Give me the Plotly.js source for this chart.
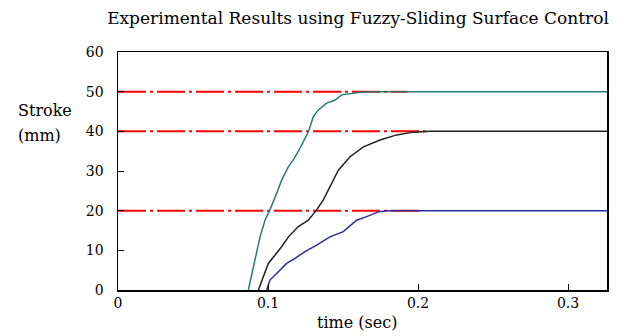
<!DOCTYPE html>
<html>
<head>
<meta charset="utf-8">
<script src="https://cdn.plot.ly/plotly-3.0.1.min.js"></script>
<style>html,body{margin:0;padding:0;background:#fff;}#chart{width:626px;height:336px;}</style>
</head>
<body>
<div id="chart"></div>
<script>
// Reference (set-point) lines
const refLevels = [50, 40, 20];
const refEndTimes = [0.193, 0.207, 0.203];

// Response to 50 mm (teal)
const t50 = [0.0869, 0.0902, 0.0947, 0.098, 0.1013, 0.1058, 0.1091, 0.1136, 0.1169, 0.1213, 0.1269, 0.1302, 0.1336, 0.1391, 0.1447, 0.1491, 0.1602, 0.17, 0.326];
const y50 = [0, 5.9, 13.4, 17.6, 20.2, 24.4, 27.7, 31.1, 32.8, 35.7, 39.9, 43.7, 45.4, 47.1, 47.9, 49.2, 49.8, 50, 50];

// Response to 40 mm (black)
const t40 = [0.0936, 0.098, 0.1002, 0.1047, 0.1091, 0.1136, 0.1202, 0.1269, 0.1324, 0.1369, 0.1402, 0.1469, 0.1547, 0.1636, 0.1747, 0.1858, 0.1969, 0.208, 0.326];
const y40 = [0, 4.2, 6.7, 8.8, 10.9, 13.4, 16.0, 17.6, 20.2, 22.7, 25.2, 30.2, 33.6, 36.1, 37.8, 39.1, 39.8, 40, 40];

// Response to 20 mm (blue)
const t20 = [0.0991, 0.1013, 0.1069, 0.1124, 0.118, 0.1247, 0.1324, 0.1413, 0.1502, 0.1591, 0.1658, 0.1736, 0.18, 0.326];
const y20 = [0, 2.5, 4.6, 6.7, 8.0, 9.7, 11.3, 13.4, 14.7, 17.6, 18.5, 19.7, 20, 20];

const xTicks = [0, 0.1, 0.2, 0.3];
const xTickText = ['0', '0.1', '0.2', '0.3'];
const yTicks = [0, 10, 20, 30, 40, 50, 60];

const serif = 'DejaVu Serif, serif';

const traces = [];
refLevels.forEach((lv, i) => {
  traces.push({
    x: [0, refEndTimes[i]], y: [lv, lv], mode: 'lines', type: 'scatter',
    line: {color: '#ff0000', width: 2, dash: '28px,4px,3px,4px'}, hoverinfo: 'skip'
  });
});
traces.push({x: t50, y: y50, mode: 'lines', type: 'scatter', line: {color: '#2a7a74', width: 1.5}});
traces.push({x: t40, y: y40, mode: 'lines', type: 'scatter', line: {color: '#222222', width: 1.5}});
traces.push({x: t20, y: y20, mode: 'lines', type: 'scatter', line: {color: '#2b2ba0', width: 1.5}});

const layout = {
  width: 626, height: 336,
  margin: {l: 118, r: 19, t: 52, b: 46},
  paper_bgcolor: '#fff', plot_bgcolor: '#fff',
  showlegend: false,
  font: {family: serif, color: '#000', size: 14},
  title: {text: 'Experimental Results using Fuzzy-Sliding Surface Control', font: {family: serif, size: 17, color: '#000'}, x: 358 / 626, xanchor: 'center', y: 1 - 18 / 336, yanchor: 'middle'},
  xaxis: {
    range: [0, 0.326], tickvals: xTicks, ticktext: xTickText,
    ticks: 'inside', ticklen: 6, tickcolor: '#000', tickwidth: 1,
    showline: true, linecolor: '#000', linewidth: 1.5, mirror: true,
    showgrid: false, zeroline: false,
    tickfont: {family: serif, size: 14, color: '#000'}
  },
  yaxis: {
    range: [0, 60], tickvals: yTicks,
    ticks: 'inside', ticklen: 6, tickcolor: '#000', tickwidth: 1,
    showline: true, linecolor: '#000', linewidth: 1.5, mirror: true,
    showgrid: false, zeroline: false, ticklabelstandoff: 10,
    tickfont: {family: serif, size: 14, color: '#000'}
  },
  annotations: [
    {text: 'Stroke', xref: 'paper', yref: 'paper', x: (16 - 118) / 489, y: (290 - 110) / 238,
     xanchor: 'left', yanchor: 'middle', showarrow: false, font: {family: serif, size: 16, color: '#000'}},
    {text: '(mm)', xref: 'paper', yref: 'paper', x: (16 - 118) / 489, y: (290 - 135) / 238,
     xanchor: 'left', yanchor: 'middle', showarrow: false, font: {family: serif, size: 16, color: '#000'}},
    {text: 'time (sec)', xref: 'paper', yref: 'paper', x: (357 - 118) / 489, y: (290 - 322) / 238,
     xanchor: 'center', yanchor: 'middle', showarrow: false, font: {family: serif, size: 16, color: '#000'}}
  ]
};

Plotly.newPlot('chart', traces, layout, {displayModeBar: false, staticPlot: true});
</script>
</body>
</html>
